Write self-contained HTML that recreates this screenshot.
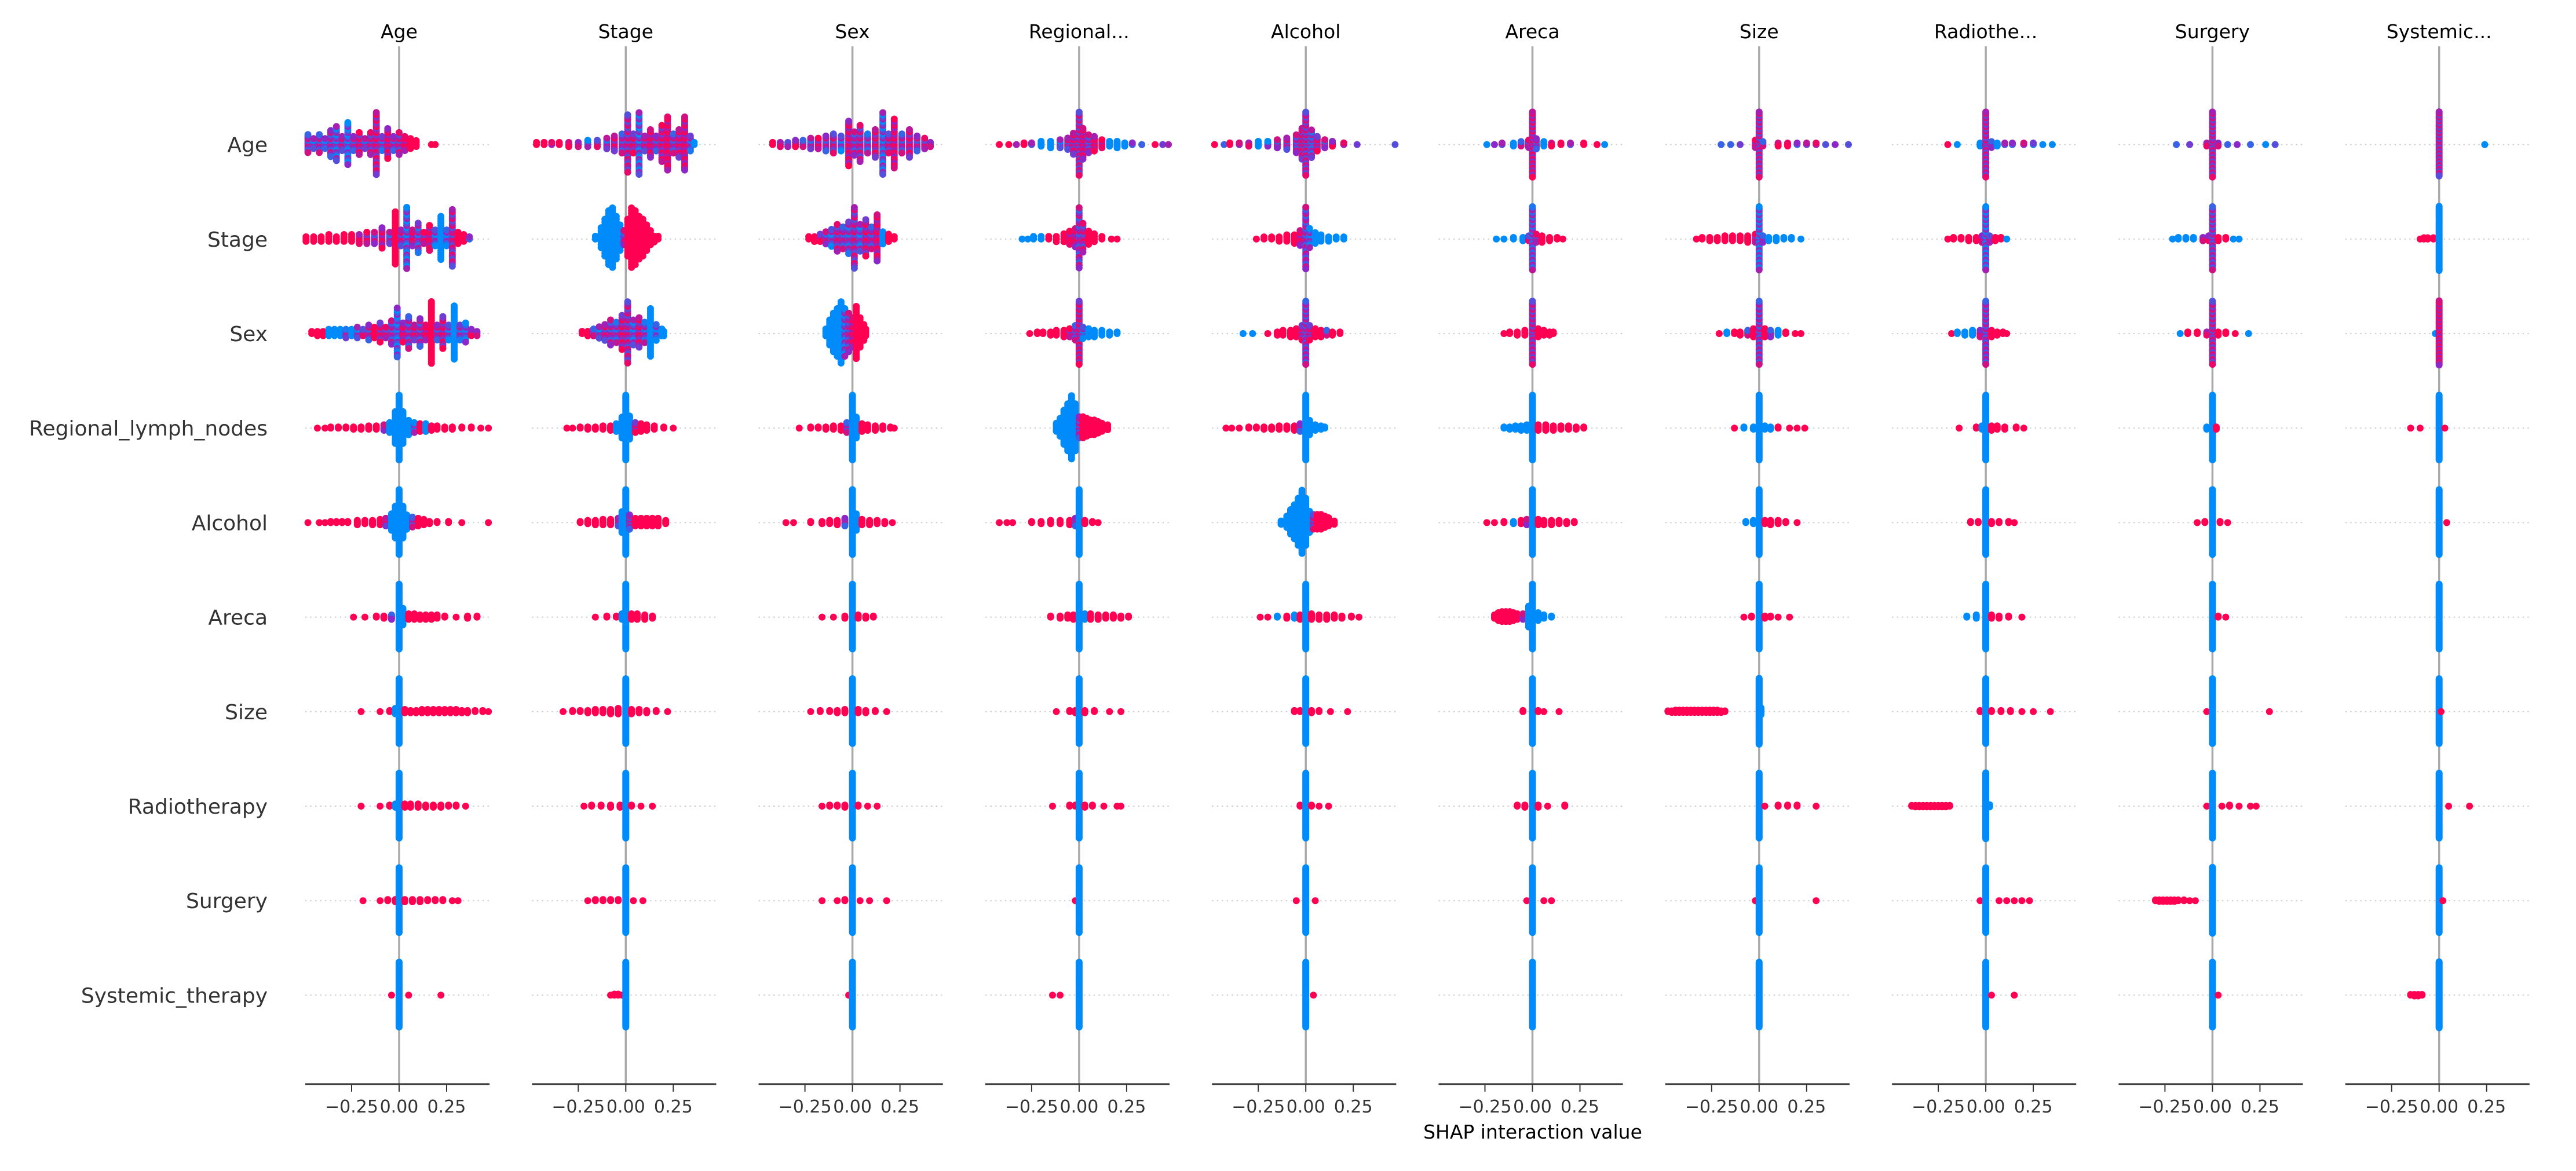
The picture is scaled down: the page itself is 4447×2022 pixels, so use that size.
<!DOCTYPE html>
<html><head><meta charset="utf-8">
<style>
html,body{margin:0;padding:0;background:#fff;}
svg{display:block;}
text{font-family:"DejaVu Sans","Liberation Sans",sans-serif;}
</style></head>
<body>
<svg id="chart" width="4447" height="2022" viewBox="0 0 4447 2022" xmlns="http://www.w3.org/2000/svg"></svg>
<script>
// ---- data ----
const features = ["Age","Stage","Sex","Regional_lymph_nodes","Alcohol","Areca","Size","Radiotherapy","Surgery","Systemic_therapy"];
const panelTitles = ["Age","Stage","Sex","Regional...","Alcohol","Areca","Size","Radiothe...","Surgery","Systemic..."];
const tickValues = [-0.25, 0, 0.25];
const tickLabels = ["\u22120.25","0.00","0.25"];
// each entry: [shap interaction value, feature colour value (0 low..1 high), point count]
const panelAge = [
 [[-0.48,.5,10],[-0.45,.3,6],[-0.42,.5,10],[-0.39,.2,6],[-0.36,.5,14],[-0.33,.3,18],[-0.30,.6,8],[-0.27,.2,22],[-0.24,.5,8],[-0.21,.7,12],[-0.18,.4,6],[-0.15,.6,12],[-0.12,.7,32],[-0.09,.4,8],[-0.06,.8,16],[-0.03,.5,8],[0,.6,12],[0.03,.9,8],[0.06,1,6],[0.09,1,4],[0.17,1,1],[0.19,1,1]],
 [[-0.49,1,3],[-0.45,1,3],[-0.41,1,3],[-0.37,1,4],[-0.33,1,3],[-0.29,1,4],[-0.25,1,4],[-0.21,.9,5],[-0.17,.7,6],[-0.13,.5,6],[-0.09,.8,10],[-0.05,.4,6],[-0.02,1,24],[0.01,.6,8],[0.04,.3,28],[0.07,.8,8],[0.1,.4,14],[0.13,.7,6],[0.16,.9,12],[0.19,.3,8],[0.22,0,20],[0.25,.2,8],[0.28,.6,26],[0.31,1,6],[0.34,1,4],[0.37,.5,2]],
 [[-0.46,1,2],[-0.43,1,3],[-0.4,1,3],[-0.37,0,4],[-0.34,0,4],[-0.31,0,4],[-0.28,.4,5],[-0.25,0,4],[-0.22,.3,6],[-0.19,.6,4],[-0.16,.5,8],[-0.13,1,6],[-0.1,.7,10],[-0.07,.6,6],[-0.04,.5,12],[-0.01,.2,24],[0.02,.8,10],[0.05,.5,16],[0.08,.7,8],[0.11,.5,14],[0.14,.9,8],[0.17,1,30],[0.2,.5,8],[0.23,.7,16],[0.26,.3,8],[0.29,0,26],[0.32,.4,8],[0.35,.2,10],[0.38,.8,4],[0.41,.5,3]],
 [[-0.43,1,1],[-0.39,1,1],[-0.36,1,2],[-0.32,1,2],[-0.28,1,2],[-0.24,1,3],[-0.2,1,3],[-0.16,1,4],[-0.12,1,4],[-0.08,.5,6],[-0.05,0,10],[-0.02,0,30],[0,0,60],[0.02,0,30],[0.05,0,14],[0.08,.3,10],[0.11,1,8],[0.14,0,8],[0.17,1,5],[0.2,1,4],[0.24,1,3],[0.28,1,3],[0.33,1,2],[0.38,1,2],[0.43,1,1],[0.47,1,1]],
 [[-0.48,1,1],[-0.42,1,1],[-0.39,1,1],[-0.36,1,2],[-0.33,1,2],[-0.3,1,2],[-0.27,1,2],[-0.22,1,5],[-0.18,1,4],[-0.14,1,5],[-0.1,1,6],[-0.07,.7,8],[-0.04,0,16],[-0.02,0,30],[0,0,60],[0.02,0,30],[0.04,0,14],[0.07,.5,10],[0.1,1,8],[0.13,1,6],[0.16,1,3],[0.2,1,2],[0.26,1,2],[0.33,1,1],[0.47,1,1]],
 [[-0.24,1,1],[-0.18,1,1],[-0.12,1,2],[-0.08,1,3],[-0.04,.5,5],[0,0,60],[0.02,0,16],[0.05,1,6],[0.08,1,6],[0.11,1,5],[0.14,1,5],[0.17,1,5],[0.2,1,4],[0.24,1,2],[0.3,1,1],[0.36,1,3],[0.41,1,2]],
 [[-0.2,1,1],[-0.1,1,1],[-0.05,1,2],[-0.02,0,6],[0,0,60],[0.03,1,4],[0.06,1,3],[0.09,1,3],[0.12,1,4],[0.15,1,4],[0.18,1,4],[0.21,1,4],[0.24,1,4],[0.27,1,4],[0.3,1,4],[0.33,1,3],[0.36,1,3],[0.4,1,2],[0.44,1,2],[0.47,1,1]],
 [[-0.2,1,1],[-0.1,1,1],[-0.05,1,2],[-0.02,0,4],[0,0,60],[0.03,1,4],[0.06,1,4],[0.1,1,4],[0.14,1,3],[0.18,1,3],[0.22,1,3],[0.26,1,2],[0.3,1,2],[0.35,1,1]],
 [[-0.19,1,1],[-0.1,1,1],[-0.06,1,2],[-0.02,1,3],[0,0,60],[0.03,1,3],[0.07,1,3],[0.11,1,3],[0.15,1,2],[0.19,1,2],[0.23,1,2],[0.28,1,1],[0.31,1,1]],
 [[-0.04,1,1],[0,0,60],[0.05,1,1],[0.22,1,1]]
];
const panelStage = [
 [[-0.47,1,2],[-0.43,1,2],[-0.39,.9,2],[-0.35,1,2],[-0.30,.8,3],[-0.25,.5,3],[-0.2,.3,4],[-0.15,.6,4],[-0.1,.4,6],[-0.06,.7,8],[-0.02,.5,10],[0.01,.6,28],[0.04,.7,10],[0.07,.3,30],[0.1,.6,8],[0.13,.8,14],[0.16,.5,8],[0.19,.7,18],[0.22,.9,26],[0.25,.5,10],[0.28,.7,14],[0.31,.8,26],[0.34,.4,8],[0.36,0,2]],
 [[-0.16,0,2],[-0.13,0,8],[-0.11,0,14],[-0.09,0,20],[-0.07,0,22],[-0.05,0,16],[-0.03,0,10],[-0.01,.5,6],[0.01,1,14],[0.03,1,22],[0.05,1,20],[0.07,1,16],[0.09,1,14],[0.11,1,10],[0.13,1,6],[0.15,1,3],[0.17,1,2]],
 [[-0.23,1,2],[-0.2,1,3],[-0.17,.5,4],[-0.14,.3,6],[-0.11,.6,8],[-0.08,.5,12],[-0.05,.4,10],[-0.02,.7,16],[0.01,.6,28],[0.04,.3,12],[0.07,.7,14],[0.1,.4,10],[0.13,0,22],[0.16,.2,8],[0.19,0,4],[0.2,0,3]],
 [[-0.31,1,1],[-0.28,1,1],[-0.24,1,2],[-0.2,1,3],[-0.16,1,3],[-0.12,1,4],[-0.08,1,5],[-0.05,0,8],[-0.02,0,20],[0,0,60],[0.02,0,22],[0.05,.7,10],[0.08,1,8],[0.11,1,6],[0.15,1,4],[0.2,1,2],[0.25,1,1]],
 [[-0.24,1,2],[-0.2,1,4],[-0.16,1,5],[-0.12,1,6],[-0.08,1,6],[-0.04,.6,8],[-0.02,0,20],[0,0,60],[0.02,.5,14],[0.05,1,8],[0.08,1,8],[0.11,1,8],[0.14,1,8],[0.17,1,8],[0.21,1,4]],
 [[-0.16,1,1],[-0.1,1,2],[-0.05,1,2],[-0.02,0,6],[0,0,60],[0.03,1,6],[0.06,1,6],[0.1,1,5],[0.14,1,3]],
 [[-0.33,1,1],[-0.28,1,2],[-0.24,1,2],[-0.2,1,3],[-0.16,1,4],[-0.12,1,4],[-0.08,1,5],[-0.04,1,6],[0,0,60],[0.03,1,5],[0.07,1,4],[0.11,1,3],[0.16,1,2],[0.22,1,1]],
 [[-0.22,1,1],[-0.18,1,2],[-0.13,1,2],[-0.08,1,3],[-0.03,1,3],[0,0,60],[0.03,1,2],[0.08,1,1],[0.14,1,1]],
 [[-0.2,1,1],[-0.16,1,2],[-0.12,1,2],[-0.08,1,2],[-0.04,1,2],[0,0,60],[0.04,1,1],[0.09,1,1]],
 [[-0.08,1,1],[-0.06,1,2],[-0.04,1,2],[-0.02,1,1],[0,0,60]]
];
const panelSex = [
 [[-0.42,1,2],[-0.38,.6,3],[-0.34,.3,3],[-0.30,.8,4],[-0.26,.5,4],[-0.22,.4,6],[-0.18,.7,6],[-0.14,.5,8],[-0.10,.6,10],[-0.06,.3,8],[-0.02,.8,22],[0.01,.5,12],[0.04,.6,18],[0.08,.4,10],[0.12,.7,14],[0.16,.3,30],[0.19,.6,10],[0.22,.8,24],[0.26,.5,10],[0.30,.7,14],[0.34,.5,8],[0.38,.6,6],[0.41,.5,3]],
 [[-0.23,1,2],[-0.2,1,3],[-0.17,.7,4],[-0.14,.5,6],[-0.11,.3,8],[-0.08,.6,12],[-0.05,.5,10],[-0.02,.4,14],[0.01,.6,26],[0.04,.3,12],[0.07,.7,16],[0.1,.5,10],[0.13,.8,20],[0.16,0,6],[0.19,1,4],[0.22,1,2]],
 [[-0.14,0,4],[-0.12,0,12],[-0.1,0,18],[-0.08,0,22],[-0.06,0,28],[-0.04,.3,22],[-0.02,.5,18],[0,.8,14],[0.02,1,24],[0.04,1,14],[0.06,1,8],[0.07,1,4]],
 [[-0.28,1,1],[-0.22,1,2],[-0.18,1,2],[-0.14,1,3],[-0.1,1,4],[-0.06,1,5],[-0.03,.5,10],[0,0,60],[0.02,0,20],[0.05,1,8],[0.08,1,6],[0.12,1,5],[0.16,1,4],[0.2,1,2],[0.22,1,1]],
 [[-0.35,1,1],[-0.31,1,1],[-0.22,1,2],[-0.16,1,3],[-0.12,1,4],[-0.08,1,5],[-0.04,.5,8],[0,0,60],[0.02,0,16],[0.05,1,6],[0.09,1,5],[0.13,1,4],[0.17,1,3],[0.21,1,1]],
 [[-0.16,1,1],[-0.1,1,1],[-0.04,1,3],[0,0,60],[0.03,1,4],[0.07,1,3],[0.11,1,2]],
 [[-0.22,1,1],[-0.17,1,2],[-0.12,1,2],[-0.08,1,3],[-0.04,1,4],[0,0,60],[0.03,1,4],[0.07,1,3],[0.12,1,2],[0.18,1,1]],
 [[-0.16,1,1],[-0.12,1,2],[-0.08,1,2],[-0.04,1,3],[0,0,60],[0.03,1,2],[0.08,1,1],[0.13,1,1]],
 [[-0.16,1,1],[-0.08,1,1],[-0.04,1,2],[0,0,60],[0.04,1,1],[0.09,1,1],[0.18,1,1]],
 [[-0.02,1,1],[0,0,60]]
];
const panelRegional = [
 [[-0.42,1,1],[-0.37,1,1],[-0.33,.9,1],[-0.29,1,2],[-0.25,.6,2],[-0.2,0,4],[-0.15,0,5],[-0.1,.3,6],[-0.06,.6,8],[-0.03,.7,14],[0,.6,40],[0.02,.8,20],[0.05,.5,12],[0.08,.9,10],[0.12,.9,6],[0.16,0,4],[0.2,0,5],[0.24,0,3],[0.28,.5,2],[0.33,.5,1],[0.4,1,1],[0.44,.7,1],[0.47,.9,1]],
 [[-0.3,0,1],[-0.27,0,1],[-0.24,0,2],[-0.2,0,2],[-0.16,1,2],[-0.12,1,3],[-0.08,1,4],[-0.05,.9,6],[-0.02,.8,8],[0,.5,24],[0.02,.6,12],[0.05,1,6],[0.08,1,4],[0.12,1,2],[0.17,1,1],[0.2,1,1]],
 [[-0.26,1,1],[-0.22,1,2],[-0.19,1,2],[-0.15,1,3],[-0.12,1,4],[-0.08,1,5],[-0.05,.7,6],[-0.02,.5,10],[0,.7,40],[0.02,.3,8],[0.05,0,6],[0.08,0,5],[0.12,0,4],[0.16,0,3],[0.2,0,2]],
 [[-0.12,0,6],[-0.1,0,12],[-0.08,0,22],[-0.06,0,30],[-0.04,0,40],[-0.02,0,30],[0,.5,14],[0.02,1,14],[0.04,1,12],[0.06,1,10],[0.08,1,10],[0.1,1,8],[0.12,1,6],[0.15,1,4]],
 [[-0.42,1,1],[-0.38,1,1],[-0.35,1,1],[-0.25,1,2],[-0.2,1,3],[-0.15,1,4],[-0.1,1,4],[-0.05,1,5],[-0.02,.5,8],[0,0,60],[0.03,1,4],[0.07,1,2],[0.1,1,1]],
 [[-0.15,1,2],[-0.1,1,3],[-0.06,1,4],[-0.03,1,5],[0,0,60],[0.03,0,6],[0.06,1,6],[0.1,1,5],[0.14,1,4],[0.18,1,4],[0.22,1,3],[0.26,1,2]],
 [[-0.12,1,1],[-0.05,1,2],[-0.02,1,3],[0,0,60],[0.03,1,3],[0.08,1,2],[0.16,1,1],[0.22,1,1]],
 [[-0.14,1,1],[-0.05,1,2],[-0.02,1,2],[0,0,60],[0.03,1,3],[0.07,1,2],[0.13,1,1],[0.2,1,1],[0.22,1,1]],
 [[-0.02,1,1],[0,0,60]],
 [[-0.14,1,1],[-0.1,1,1],[0,0,60]]
];
const panelAlcohol = [
 [[-0.48,1,1],[-0.43,.5,1],[-0.4,1,2],[-0.35,.8,2],[-0.3,.6,3],[-0.25,0,4],[-0.2,.2,4],[-0.15,.5,6],[-0.1,.6,8],[-0.05,.5,12],[-0.02,.7,20],[0,.6,40],[0.03,.4,18],[0.06,.7,10],[0.1,.5,6],[0.14,.8,4],[0.2,.9,2],[0.27,.7,1],[0.47,.6,1]],
 [[-0.26,1,1],[-0.22,1,2],[-0.18,1,2],[-0.14,1,3],[-0.1,1,4],[-0.06,1,5],[-0.03,.8,8],[0,.5,30],[0.02,.3,10],[0.05,0,6],[0.08,0,4],[0.12,0,3],[0.16,0,2],[0.2,0,2]],
 [[-0.33,0,1],[-0.28,0,1],[-0.2,1,1],[-0.15,1,3],[-0.12,1,4],[-0.08,1,5],[-0.05,1,6],[-0.02,.7,10],[0,.5,40],[0.02,.7,10],[0.05,1,6],[0.08,1,5],[0.11,.5,4],[0.14,1,3],[0.18,1,2]],
 [[-0.42,1,1],[-0.39,1,1],[-0.35,1,1],[-0.3,1,2],[-0.26,1,2],[-0.22,1,3],[-0.18,1,3],[-0.14,1,4],[-0.1,1,4],[-0.06,1,5],[-0.03,.5,8],[0,0,60],[0.02,0,14],[0.05,0,6],[0.08,0,4],[0.1,0,2]],
 [[-0.13,0,3],[-0.1,0,8],[-0.08,0,16],[-0.06,0,22],[-0.04,0,30],[-0.02,0,40],[0,0,30],[0.02,0,14],[0.04,.6,10],[0.06,1,10],[0.08,1,10],[0.1,1,8],[0.12,1,6],[0.15,1,3]],
 [[-0.24,1,1],[-0.2,1,1],[-0.15,0,2],[-0.1,1,3],[-0.06,0,4],[-0.03,1,5],[0,0,60],[0.03,1,6],[0.07,1,5],[0.11,1,5],[0.15,1,4],[0.19,1,3],[0.24,1,2],[0.28,1,1]],
 [[-0.06,1,2],[-0.03,1,2],[0,0,60],[0.03,1,3],[0.07,1,2],[0.13,1,1],[0.22,1,1]],
 [[-0.03,1,2],[0,0,60],[0.03,1,2],[0.07,1,1],[0.12,1,1]],
 [[-0.05,1,1],[0,0,60],[0.05,1,1]],
 [[0,0,60],[0.04,1,1]]
];
const panelAreca = [
 [[-0.24,0,1],[-0.2,.8,1],[-0.16,.6,2],[-0.1,0,3],[-0.06,.5,4],[-0.02,.6,6],[0,.7,45],[0.02,.5,8],[0.06,0,4],[0.1,.8,3],[0.15,1,2],[0.2,.6,2],[0.27,1,2],[0.34,1,1],[0.38,0,1]],
 [[-0.19,0,1],[-0.15,0,1],[-0.1,0,2],[-0.05,0,3],[-0.02,.6,4],[0,.4,40],[0.02,.6,6],[0.05,1,5],[0.09,1,3],[0.13,1,2],[0.16,1,1]],
 [[-0.15,1,1],[-0.12,1,2],[-0.08,1,3],[-0.04,1,4],[0,.6,40],[0.03,1,6],[0.06,1,4],[0.09,1,3],[0.11,1,2]],
 [[-0.15,0,2],[-0.12,0,3],[-0.09,0,4],[-0.06,0,5],[-0.03,0,6],[0,0,60],[0.03,1,6],[0.07,1,6],[0.11,1,5],[0.15,1,4],[0.19,1,4],[0.23,1,3],[0.27,1,2]],
 [[-0.24,1,1],[-0.2,1,1],[-0.15,1,2],[-0.1,0,3],[-0.06,1,4],[-0.03,.5,6],[0,0,60],[0.03,1,6],[0.06,1,5],[0.1,1,5],[0.14,1,4],[0.18,1,3],[0.22,1,2]],
 [[-0.2,1,4],[-0.18,1,8],[-0.16,1,10],[-0.14,1,10],[-0.12,1,10],[-0.1,1,8],[-0.08,1,6],[-0.05,.5,6],[-0.02,0,20],[0,0,60],[0.03,0,8],[0.06,0,4],[0.1,0,2]],
 [[-0.05,1,2],[0,0,60],[0.03,1,2],[0.06,1,1],[0.14,1,1]],
 [[-0.08,1,2],[-0.04,1,3],[0,0,60],[0.03,1,3],[0.08,1,1],[0.17,1,2]],
 [[-0.03,1,1],[0,0,60],[0.06,1,1],[0.1,1,1]],
 [[0,0,60]]
];
const panelSize = [
 [[-0.2,.5,1],[-0.15,.5,1],[-0.1,.7,1],[-0.02,.7,6],[0,.6,45],[0.02,.5,4],[0.1,.8,3],[0.15,.9,3],[0.2,.5,2],[0.25,.7,2],[0.3,.9,2],[0.35,.6,1],[0.4,.8,1],[0.47,.6,1]],
 [[-0.33,1,1],[-0.3,1,2],[-0.26,1,3],[-0.22,1,3],[-0.18,1,4],[-0.14,1,4],[-0.1,1,4],[-0.06,1,5],[-0.02,.7,6],[0,.3,40],[0.02,.5,5],[0.05,0,3],[0.09,0,3],[0.13,0,2],[0.17,0,2],[0.22,0,1]],
 [[-0.21,1,1],[-0.17,0,2],[-0.13,1,2],[-0.1,1,3],[-0.06,.5,4],[-0.03,1,6],[0,.5,40],[0.03,1,6],[0.06,.5,5],[0.1,0,4],[0.14,1,2],[0.19,1,1],[0.22,1,1]],
 [[-0.13,1,1],[-0.08,0,2],[-0.03,0,3],[0,0,60],[0.03,0,4],[0.06,0,3],[0.1,1,2],[0.16,1,1],[0.2,1,1],[0.24,1,1]],
 [[-0.07,0,2],[-0.03,0,4],[0,0,60],[0.03,1,4],[0.06,1,5],[0.1,1,4],[0.14,1,2],[0.2,1,1]],
 [[-0.08,1,1],[-0.04,1,2],[0,0,60],[0.03,1,3],[0.06,1,2],[0.1,1,1],[0.16,1,1]],
 [[-0.48,1,2],[-0.46,1,3],[-0.44,1,4],[-0.42,1,4],[-0.4,1,4],[-0.38,1,4],[-0.36,1,4],[-0.34,1,4],[-0.32,1,4],[-0.3,1,4],[-0.28,1,4],[-0.26,1,4],[-0.24,1,4],[-0.22,1,4],[-0.2,1,3],[-0.18,1,2],[0,0,90],[0.01,0,10]],
 [[0,0,60],[0.03,1,1],[0.1,1,2],[0.15,1,2],[0.2,1,2],[0.3,1,1]],
 [[-0.02,1,1],[0,0,60],[0.3,1,1]],
 [[0,0,60]]
];
const panelRadiotherapy = [
 [[-0.2,1,1],[-0.15,.3,1],[-0.03,0,3],[0,.6,45],[0.03,.5,5],[0.06,0,3],[0.1,.6,2],[0.14,.5,2],[0.2,.8,2],[0.25,.4,2],[0.3,0,1],[0.35,0,1]],
 [[-0.2,1,1],[-0.17,1,2],[-0.13,1,2],[-0.09,1,3],[-0.05,1,3],[-0.02,.8,5],[0,.3,40],[0.02,.6,5],[0.05,1,3],[0.08,1,2],[0.11,0,1]],
 [[-0.18,1,1],[-0.15,0,2],[-0.11,0,3],[-0.07,0,4],[-0.03,.8,5],[0,.5,40],[0.03,1,5],[0.06,1,3],[0.09,1,2],[0.11,1,1]],
 [[-0.14,1,1],[-0.05,1,2],[-0.02,0,4],[0,0,60],[0.03,1,5],[0.06,1,4],[0.1,1,3],[0.16,1,2],[0.2,1,1]],
 [[-0.08,1,2],[-0.04,1,2],[0,0,60],[0.03,1,3],[0.07,1,2],[0.12,1,2],[0.15,1,1]],
 [[-0.1,0,2],[-0.05,0,4],[0,0,60],[0.03,1,4],[0.07,1,3],[0.12,1,2],[0.19,1,1]],
 [[-0.03,1,2],[0,0,60],[0.03,1,2],[0.08,1,2],[0.13,1,2],[0.19,1,1],[0.25,1,1],[0.34,1,1]],
 [[-0.39,1,2],[-0.37,1,3],[-0.35,1,3],[-0.33,1,3],[-0.31,1,3],[-0.29,1,3],[-0.27,1,3],[-0.25,1,3],[-0.23,1,3],[-0.21,1,3],[-0.19,1,2],[0,0,90],[0.02,0,4]],
 [[-0.03,1,1],[0,0,60],[0.07,1,1],[0.11,1,1],[0.15,1,1],[0.19,1,1],[0.23,1,1]],
 [[0,0,60],[0.03,1,1],[0.15,1,1]]
];
const panelSurgery = [
 [[-0.19,.5,1],[-0.12,.7,1],[-0.03,.6,3],[0,.6,45],[0.03,.5,3],[0.08,.5,1],[0.13,.8,1],[0.2,.5,1],[0.28,0,1],[0.33,.6,1]],
 [[-0.21,0,1],[-0.18,0,2],[-0.14,0,2],[-0.1,0,2],[-0.05,.5,3],[-0.02,.8,4],[0,.5,40],[0.03,1,3],[0.07,1,2],[0.11,0,1],[0.14,0,1]],
 [[-0.17,0,1],[-0.13,1,2],[-0.08,1,2],[-0.03,.6,3],[0,.6,40],[0.03,1,3],[0.07,1,2],[0.12,1,1],[0.19,0,1]],
 [[-0.03,0,3],[0,0,60],[0.02,1,3]],
 [[-0.08,1,1],[-0.04,1,2],[0,0,60],[0.04,1,2],[0.08,1,1]],
 [[0,0,60],[0.03,1,2],[0.07,1,1]],
 [[-0.03,1,1],[0,0,60],[0.3,1,1]],
 [[-0.03,1,1],[0,0,60],[0.05,1,1],[0.09,1,2],[0.14,1,1],[0.2,1,1],[0.23,1,1]],
 [[-0.3,1,2],[-0.28,1,3],[-0.26,1,3],[-0.24,1,3],[-0.22,1,3],[-0.2,1,3],[-0.18,1,2],[-0.15,1,2],[-0.12,1,1],[-0.09,1,1],[0,0,90]],
 [[0,0,60],[0.03,1,1]]
];
const panelSystemic = [
 [[0,.6,50],[0.24,0,1]],
 [[-0.1,1,1],[-0.08,1,2],[-0.06,1,2],[-0.03,1,2],[0,0,50]],
 [[-0.02,0,1],[0,.8,50]],
 [[-0.15,1,1],[-0.1,1,1],[0,0,60],[0.03,1,1]],
 [[0,0,60],[0.04,1,1]],
 [[0,0,60]],
 [[0,0,60],[0.01,1,1]],
 [[0,0,60],[0.05,1,1],[0.16,1,1]],
 [[0,0,60],[0.02,1,1]],
 [[-0.15,1,2],[-0.13,1,3],[-0.11,1,3],[-0.09,1,2],[0,0,90]]
];
const panels = [panelAge,panelStage,panelSex,panelRegional,panelAlcohol,panelAreca,panelSize,panelRadiotherapy,panelSurgery,panelSystemic];

// ---- layout ----
const NS = "http://www.w3.org/2000/svg";
const svg = document.getElementById("chart");
const zero0 = 689, panelStep = 391.3, pxPerUnit = 328;
const row0 = 249.6, rowStep = 163.2;
const axisY = 1872, lineTop = 80;
const xDomainMin = -0.494, xDomainMax = 0.476;
function xScale(c, v){ return zero0 + c*panelStep + v*pxPerUnit; }
function yScale(r){ return row0 + r*rowStep; }
function mk(tag, attrs, parent){
  const e = document.createElementNS(NS, tag);
  for (const k in attrs) e.setAttribute(k, attrs[k]);
  (parent||svg).appendChild(e);
  return e;
}
function colorOf(t){
  t = Math.max(0, Math.min(1, t));
  const a=[0,139,251], m=[140,40,200], b=[255,0,82];
  let c;
  if (t<0.5){ const u=t/0.5; c=a.map((x,i)=>Math.round(x+(m[i]-x)*u)); }
  else { const u=(t-0.5)/0.5; c=m.map((x,i)=>Math.round(x+(b[i]-x)*u)); }
  return "rgb("+c.join(",")+")";
}

// row labels
features.forEach((f, r) => {
  const t = mk("text", {x: 462, y: yScale(r)+13, "text-anchor":"end", "font-size":36, fill:"#333"});
  t.textContent = f;
  
  
});

panels.forEach((rows, c) => {
  const g = mk("g", {});
  
  
  const left = xScale(c, xDomainMin), right = xScale(c, xDomainMax), zx = xScale(c, 0);
  rows.forEach((_, r) => {
    const l = mk("line", {x1:left, x2:right, y1:yScale(r), y2:yScale(r), stroke:"#cccccc", "stroke-width":2, "stroke-dasharray":"2.5 6"}, g);
    
    
  });
  const zl = mk("line", {x1:zx, x2:zx, y1:lineTop, y2:axisY, stroke:"#aaaaaa", "stroke-width":3.5}, g);
  
  
  const tt = mk("text", {x:zx, y:66, "text-anchor":"middle", "font-size":33, fill:"#000"}, g);
  tt.textContent = panelTitles[c];
  
  
  rows.forEach((entries, r) => {
    const vals = entries.map(e=>e[0]);
    const vmin = Math.min(...vals), vmax = Math.max(...vals);
    const range = Math.max(vmax - vmin, 0.05);
    const bins = {};
    const pts = [];
    entries.forEach(e => {
      const b = Math.round(100*(e[0]-vmin)/range);
      for (let i=0;i<e[2];i++){
        bins[b] = bins[b]||0;
        const layer = bins[b]++;
        const off = Math.ceil(layer/2) * (layer%2 ? -1 : 1);
        const shade = e[1]<=0 || e[1]>=1 ? e[1] : e[1] + ((i%3)-1)*0.3;
        pts.push({v:e[0], off, col:colorOf(shade)});
      }
    });
    let maxOff = 0; pts.forEach(p=>{ maxOff = Math.max(maxOff, Math.abs(p.off)); });
    const sp = 0.9*0.4*rowStep/(maxOff+1);
    pts.forEach(p => {
      const d = mk("circle", {cx:xScale(c,p.v), cy:yScale(r)+p.off*sp, r:6, fill:p.col}, g);
      
      
    });
  });
  const ax = mk("line", {x1:left, x2:right, y1:axisY, y2:axisY, stroke:"#333", "stroke-width":3}, g);
  
  
  tickValues.forEach((tv, i) => {
    const x = xScale(c, tv);
    const tk = mk("line", {x1:x, x2:x, y1:axisY, y2:axisY+13, stroke:"#333", "stroke-width":2}, g);
    
    
    const lb = mk("text", {x:x, y:axisY+49, "text-anchor":"middle", "font-size":30, fill:"#333"}, g);
    lb.textContent = tickLabels[i];
    
    
  });
});
const xl = mk("text", {x:2646, y:1966, "text-anchor":"middle", "font-size":33, fill:"#000"});
xl.textContent = "SHAP interaction value";


</script>
</body></html>
